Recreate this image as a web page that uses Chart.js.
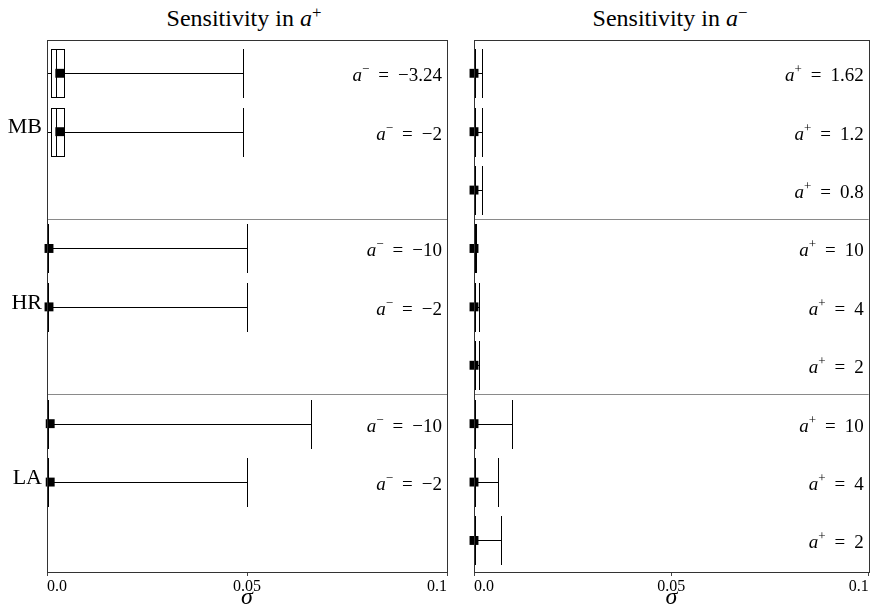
<!DOCTYPE html>
<html>
<head>
<meta charset="utf-8">
<script src="https://cdn.jsdelivr.net/npm/chart.js@4.4.1/dist/chart.umd.min.js"></script>
<style>
body { margin: 0; background: #fff; }
#wrap { position: relative; width: 875px; height: 606px; font-family: 'Liberation Serif', serif; }
canvas { position: absolute; top: 0; }
.title { position: absolute; top: 6px; font-size: 24px; line-height: 24px; text-align: center; color: #000; white-space: nowrap; }
.title sup { font-size: 0.7em; line-height: 0; vertical-align: 0.45em; }
</style>
</head>
<body>
<div id="wrap">
  <div class="title" style="left:44px;width:400px">Sensitivity in <i>a</i><sup>+</sup></div>
  <div class="title" style="left:470px;width:400px">Sensitivity in <i>a</i><sup>−</sup></div>
  <canvas id="left" width="460" height="606" style="left:0"></canvas>
  <canvas id="right" width="415" height="606" style="left:460px"></canvas>
</div>
<script>
const FONT = "'Liberation Serif', serif";

const groups = ['MB', 'HR', 'LA'];
const rowIdx = [0, 1, 2, 3, 4, 5, 6, 7, 8];
const xTicks = [0, 0.05, 0.1];

// left: sensitivity in a+ (rows labelled by fixed a-)
const leftParam = ['−3.24', '−2', null, '−10', '−2', null, '−10', '−2', null];
const leftLow  = [0, 0, null, 0, 0, null, 0, 0, null];
const leftQ1   = [0.0011, 0.0011, null, 0, 0, null, 0, 0, null];
const leftMed  = [0.0023, 0.0023, null, 0, 0, null, 0, 0, null];
const leftQ3   = [0.0043, 0.0043, null, 0.0003, 0.0003, null, 0.0003, 0.0003, null];
const leftHigh = [0.049, 0.049, null, 0.05, 0.05, null, 0.066, 0.05, null];
const leftMean = [0.0032, 0.0032, null, 0.0005, 0.0005, null, 0.0008, 0.0008, null];

// right: sensitivity in a- (rows labelled by fixed a+)
const rightParam = ['1.62', '1.2', '0.8', '10', '4', '2', '10', '4', '2'];
const rightLow  = [0, 0, 0, 0, 0, 0, 0, 0, 0];
const rightQ1   = [0, 0, 0, 0, 0, 0, 0, 0, 0];
const rightMed  = [0, 0, 0, 0, 0, 0, 0, 0, 0];
const rightQ3   = [0.0003, 0.0003, 0.0003, 0.0003, 0.0003, 0.0003, 0.0003, 0.0003, 0.0003];
const rightHigh = [0.0021, 0.0021, 0.0021, 0.0006, 0.0013, 0.0013, 0.0096, 0.0062, 0.0069];
const rightMean = [0, 0, 0, 0, 0, 0, 0, 0, 0];

function line(ctx, x1, y1, x2, y2) {
  ctx.beginPath(); ctx.moveTo(x1, y1); ctx.lineTo(x2, y2); ctx.stroke();
}

// draws  a^sign = value , right aligned
function drawParam(ctx, xRight, yBase, sign, val) {
  ctx.textBaseline = 'alphabetic';
  ctx.textAlign = 'left';
  ctx.fillStyle = '#000';
  ctx.font = '19px ' + FONT;
  const wVal = ctx.measureText(val).width;
  const wEq = ctx.measureText('=').width;
  ctx.font = '13px ' + FONT;
  const wSup = ctx.measureText(sign).width;
  ctx.font = 'italic 19px ' + FONT;
  const wA = ctx.measureText('a').width;
  const gap = 9;
  let x = xRight - wVal;
  ctx.font = '19px ' + FONT;
  ctx.fillText(val, x, yBase);
  x -= gap + wEq;
  ctx.fillText('=', x, yBase);
  x -= gap + wSup;
  ctx.font = '13px ' + FONT;
  ctx.fillText(sign, x, yBase - 8);
  x -= wA;
  ctx.font = 'italic 19px ' + FONT;
  ctx.fillText('a', x, yBase);
}

function makePanel(id, s, opt) {
  const meanPts = rowIdx.filter(i => s.mean[i] != null).map(i => ({ x: s.mean[i], y: i }));

  const boxPlugin = {
    id: 'boxes',
    beforeDatasetsDraw(chart) {
      const { ctx, chartArea: a, scales: { x, y } } = chart;
      const half = 0.42 * Math.abs(y.getPixelForValue(1) - y.getPixelForValue(0));
      const px = v => Math.round(x.getPixelForValue(v)) + 0.5;
      ctx.save();
      ctx.lineWidth = 1;
      ctx.strokeStyle = '#8a8a8a';
      [2.5, 5.5].forEach(v => {
        const py = Math.round(y.getPixelForValue(v)) + 0.5;
        line(ctx, a.left, py, a.right, py);
      });
      ctx.strokeStyle = '#000';
      rowIdx.forEach(i => {
        if (s.high[i] == null) return;
        const cy = Math.round(y.getPixelForValue(i)) + 0.5;
        const top = Math.round(cy - half), bot = Math.round(cy + half);
        line(ctx, px(s.low[i]), cy, px(s.high[i]), cy);
        line(ctx, px(s.low[i]), top, px(s.low[i]), bot);
        line(ctx, px(s.high[i]), top, px(s.high[i]), bot);
        const x1 = px(s.q1[i]), x3 = px(s.q3[i]);
        ctx.fillStyle = '#fff';
        ctx.fillRect(x1, top, x3 - x1, bot - top);
        ctx.strokeRect(x1, top + 0.5, x3 - x1, bot - top - 1);
        line(ctx, px(s.med[i]), top, px(s.med[i]), bot);
      });
      ctx.restore();
    },
    afterDraw(chart) {
      const { ctx, chartArea: a, scales: { y } } = chart;
      ctx.save();
      ctx.strokeStyle = '#333';
      ctx.lineWidth = 1;
      const l = Math.round(a.left) + 0.5, r = Math.round(a.right) + 0.5;
      const t = Math.round(a.top) + 0.5, b = Math.round(a.bottom) + 0.5;
      ctx.strokeRect(l, t, r - l, b - t);
      rowIdx.forEach(i => {
        if (s.param[i] == null) return;
        drawParam(ctx, a.right - 5, y.getPixelForValue(i) + 8, s.sign, s.param[i]);
      });
      ctx.restore();
    }
  };

  return new Chart(document.getElementById(id), {
    type: 'scatter',
    data: {
      datasets: [{
        data: meanPts,
        pointStyle: 'rect',
        pointRadius: 6.3,
        pointHoverRadius: 6.3,
        backgroundColor: '#000',
        borderWidth: 0,
        clip: false
      }]
    },
    options: {
      responsive: false,
      animation: false,
      layout: { padding: { top: 40, right: opt.padRight, left: 0, bottom: 0 } },
      plugins: { legend: { display: false }, tooltip: { enabled: false } },
      scales: {
        x: {
          type: 'linear', min: 0, max: 0.1,
          afterBuildTicks: sc => { sc.ticks = xTicks.map(v => ({ value: v })); },
          ticks: {
            align: 'inner', maxRotation: 0, autoSkip: false, padding: 1,
            color: '#000', font: { family: FONT, size: 16 },
            callback: v => v === 0 ? '0.0' : String(v)
          },
          grid: { drawOnChartArea: false, drawTicks: true, tickLength: 4, color: '#444' },
          border: { display: false },
          title: {
            display: true, text: 'σ', color: '#000',
            font: { family: FONT, size: 24, style: 'italic', lineHeight: 0.7 },
            padding: { top: 0, bottom: 0 }
          },
          afterFit: sc => { sc.height = 34; }
        },
        y: {
          type: 'linear', reverse: true, min: -0.57, max: 8.54,
          afterBuildTicks: sc => { sc.ticks = [1, 4, 7].map(v => ({ value: v })); },
          ticks: {
            display: opt.showGroups, autoSkip: false, padding: 5, labelOffset: -4,
            color: '#000', font: { family: FONT, size: 22 },
            callback: (v, i) => groups[i]
          },
          grid: { display: false, drawTicks: false, tickLength: 0 },
          border: { display: false },
          afterFit: sc => { sc.width = opt.yWidth; }
        }
      }
    },
    plugins: [boxPlugin]
  });
}

makePanel('left', {
  low: leftLow, q1: leftQ1, med: leftMed, q3: leftQ3, high: leftHigh, mean: leftMean,
  param: leftParam, sign: '−'
}, { yWidth: 47, padRight: 13, showGroups: true });

makePanel('right', {
  low: rightLow, q1: rightQ1, med: rightMed, q3: rightQ3, high: rightHigh, mean: rightMean,
  param: rightParam, sign: '+'
}, { yWidth: 14, padRight: 1, showGroups: false });
</script>
</body>
</html>
